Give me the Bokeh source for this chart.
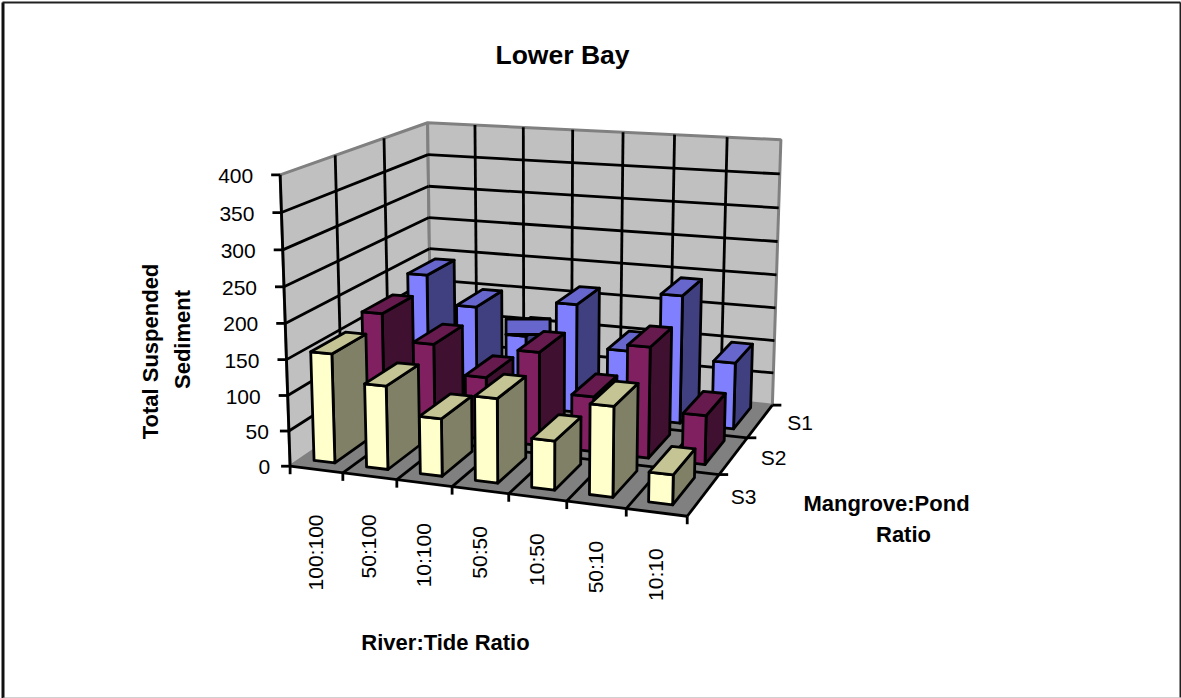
from math import pi

import numpy as np
from bokeh.core.properties import value
from bokeh.embed import file_html
from bokeh.models import ColumnDataSource
from bokeh.plotting import figure
from bokeh.resources import INLINE

# Chart data
title = "Lower Bay"
categories = ["100:100", "50:100", "10:100", "50:50", "10:50", "50:10", "10:10"]
series_names = ["S1", "S2", "S3"]
s1 = [190, 147, 109, 164, 101, 190, 98]
s2 = [170, 132, 91, 135, 79, 157, 69]
s3 = [154, 117, 80, 116, 67, 122, 40]
y_ticks = [0, 50, 100, 150, 200, 250, 300, 350, 400]

# Size of the box in data units: categories, rows, height
N_CAT, N_ROW, Z_MAX = 7, 3, 400

# Camera calibration: box corners (u, v, w) and where they land on the page
box_corners = [
    (0, 0, 0), (7, 0, 0), (0, 3, 0), (7, 3, 0),
    (0, 0, 400), (0, 3, 400), (7, 3, 400),
]
page_corners = [
    (290, 463), (687, 518), (430, 373), (772, 402),
    (279, 175), (428, 121), (780, 140),
]

BAR_W, BAR_D = 0.40, 0.66
BAR_SHIFT = -0.05
ROW_INSET = 0.20
STROKE = 2.8
# This bar's cap is drawn as a flat box rather than a skewed face
BOXED_CAP = ("S1", 2)


def fit_camera(world, page):
    """Direct linear transform from 3D box space to page pixels."""
    rows, rhs = [], []
    for (u, v, w), (x, y) in zip(world, page):
        w_s = w / 100.0
        rows.append([u, v, w_s, 1, 0, 0, 0, 0, -x * u, -x * v, -x * w_s])
        rhs.append(x)
        rows.append([0, 0, 0, 0, u, v, w_s, 1, -y * u, -y * v, -y * w_s])
        rhs.append(y)
    m, *_ = np.linalg.lstsq(np.array(rows, float), np.array(rhs, float), rcond=None)
    return np.append(m, 1.0).reshape(3, 4)


CAMERA = fit_camera(box_corners, page_corners)


def proj(u, v, w):
    h = CAMERA @ np.array([u, v, w / 100.0, 1.0])
    return float(h[0] / h[2]), float(h[1] / h[2])


def poly(points):
    pts = [proj(*pt) for pt in points]
    return [a for a, _ in pts], [b for _, b in pts]


p = figure(width=1181, height=698, x_range=(0, 1181), y_range=(698, 0),
           toolbar_location=None, output_backend="svg", min_border=0,
           background_fill_color="white", border_fill_color="white")
p.xaxis.visible = False
p.yaxis.visible = False
p.xgrid.visible = False
p.ygrid.visible = False
p.outline_line_color = None

# Chart area frame
p.line([2.5, 2.5], [698, 2], line_color="#101010", line_width=3)
p.line([2, 1180], [2, 2], line_color="#202020", line_width=2)
p.line([1180, 1180], [2, 697], line_color="#202020", line_width=2)
p.line([2.5, 1180], [697.5, 697.5], line_color="#a0a0a0", line_width=1)

# Walls and floor
walls = [
    poly([(0, 0, 0), (0, 3, 0), (0, 3, Z_MAX), (0, 0, Z_MAX)]),
    poly([(0, 3, 0), (7, 3, 0), (7, 3, Z_MAX), (0, 3, Z_MAX)]),
]
floor = poly([(0, 0, 0), (7, 0, 0), (7, 3, 0), (0, 3, 0)])
p.patches([w[0] for w in walls], [w[1] for w in walls], fill_color="#C0C0C0",
          line_color="#808080", line_width=3)
p.patch(floor[0], floor[1], fill_color="#808080", line_color="#808080", line_width=1)

# Gridlines on the walls and floor
gx, gy = [], []
for t in y_ticks[1:-1]:
    for a, b in [((0, 0, t), (0, 3, t)), ((0, 3, t), (7, 3, t))]:
        xs, ys = poly([a, b])
        gx.append(xs)
        gy.append(ys)
for r in range(1, N_ROW):
    for a, b in [((0, r, 0), (0, r, Z_MAX)), ((0, r, 0), (7, r, 0))]:
        xs, ys = poly([a, b])
        gx.append(xs)
        gy.append(ys)
for c in range(1, N_CAT):
    for a, b in [((c, 3, 0), (c, 3, Z_MAX)), ((c, 0, 0), (c, 3, 0))]:
        xs, ys = poly([a, b])
        gx.append(xs)
        gy.append(ys)
p.multi_line(gx, gy, line_color="black", line_width=STROKE)

# Axis lines with their tick marks
ax, ay = [], []
for a, b in [((0, 0, 0), (0, 0, Z_MAX)), ((0, 0, 0), (7, 0, 0)), ((7, 0, 0), (7, 3, 0))]:
    xs, ys = poly([a, b])
    ax.append(xs)
    ay.append(ys)
for t in y_ticks:
    x0, y0 = proj(0, 0, t)
    ax.append([x0 - 9, x0])
    ay.append([y0, y0])
for c in range(N_CAT + 1):
    x0, y0 = proj(c, 0, 0)
    ax.append([x0, x0])
    ay.append([y0, y0 + 8])
for r in range(1, N_ROW + 1):
    x0, y0 = proj(7, r, 0)
    ax.append([x0, x0 + 9])
    ay.append([y0, y0])
p.multi_line(ax, ay, line_color="black", line_width=STROKE)

# Bars, drawn from the back row forward and left to right
palette = {
    "S1": ("#8080FF", "#6666CC", "#404080"),
    "S2": ("#802060", "#661A4D", "#401030"),
    "S3": ("#FFFFCC", "#C4C494", "#808066"),
}
rows_back_to_front = [("S1", s1, 2), ("S2", s2, 1), ("S3", s3, 0)]
bx, by, bc = [], [], []
for name, vals, r in rows_back_to_front:
    front, top, side = palette[name]
    for i, h in enumerate(vals):
        u0 = i + (1 - BAR_W) / 2 + BAR_SHIFT
        u1 = u0 + BAR_W
        v0 = r + ROW_INSET
        v1 = v0 + BAR_D
        faces = [
            ([(u1, v0, 0), (u1, v1, 0), (u1, v1, h), (u1, v0, h)], side),
            ([(u0, v0, 0), (u1, v0, 0), (u1, v0, h), (u0, v0, h)], front),
            ([(u0, v0, h), (u1, v0, h), (u1, v1, h), (u0, v1, h)], top),
        ]
        for pts, col in faces:
            xs, ys = poly(pts)
            bx.append(xs)
            by.append(ys)
            bc.append(col)
        if (name, i) == BOXED_CAP:
            (xl, yf), (xr, yb) = proj(u0, v0, h), proj(u1, v1, h)
            bx.append([xl, xr, xr, xl])
            by.append([yf, yf, yb, yb])
            bc.append(top)
p.patches("x", "y", fill_color="c", line_color="black", line_width=STROKE, line_join="round",
          source=ColumnDataSource(dict(x=bx, y=by, c=bc)))

FONT = value("Liberation Sans")


def label(x, y, text, size, bold=False, angle=0.0, align="center"):
    p.text([x], [y], text=[text], text_font=FONT, text_font_size=f"{size}px",
           text_font_style="bold" if bold else "normal", angle=angle,
           text_align=align, text_baseline="middle", text_color="black")


# Value axis labels
for t in y_ticks:
    x0, y0 = proj(0, 0, t)
    label(x0 - (27 if t >= 100 else 20), y0 + 1, str(t), 21, align="right")

# Category labels, read upward under the front edge
cat_gap = [45, 38, 40, 36, 36, 36, 36]
for i, name in enumerate(categories):
    x0, y0 = proj(i + 0.5, 0, 0)
    label(x0 - 1, y0 + cat_gap[i], name, 21, angle=pi / 2, align="right")

# Row labels
for r, name in zip([2, 1, 0], series_names):
    x0, y0 = proj(7, r + 0.5, 0)
    label(x0 + 40, y0 + 2, name, 21)

# Titles
label(562, 54, title, 26.5, bold=True)
label(445, 642, "River:Tide Ratio", 22, bold=True)
label(886, 503, "Mangrove:Pond", 22, bold=True)
label(903, 534, "Ratio", 22, bold=True)
label(150, 351, "Total Suspended", 22, bold=True, angle=pi / 2)
label(182, 339, "Sediment", 22, bold=True, angle=pi / 2)

open("out.html", "w").write(file_html(p, INLINE))
